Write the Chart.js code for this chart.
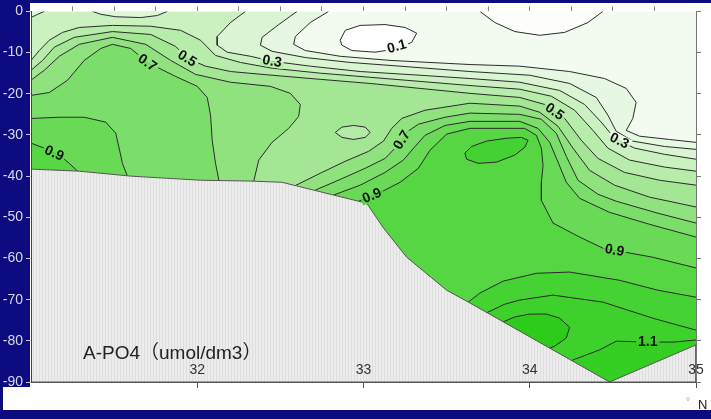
<!DOCTYPE html>
<html><head><meta charset="utf-8">
<script src="https://cdn.jsdelivr.net/npm/chart.js@4/dist/chart.umd.min.js"></script>
<style>html,body{margin:0;padding:0;background:#0c0c80;}canvas{display:block;}</style>
</head><body>
<canvas id="c" width="711" height="419"></canvas>
<script>
// ---------------- data (latitude °N, depth m, PO4 umol/dm3) ----------------
const latTicks = [32, 33, 34, 35];
const latMinorTicks = [31.25,31.5,31.75,32,32.25,32.5,32.75,33,33.25,33.5,33.75,34,34.25,34.5,34.75];
const depthTicks = [0,-10,-20,-30,-40,-50,-60,-70,-80,-90];

const iso010Top  = [[33.70,0],[33.79,-2.7],[33.91,-4.9],[34.06,-5.8],[34.21,-5.1],[34.35,-2.7],[34.44,0]];
const iso010Blob = [[32.86,-7.0],[32.89,-4.6],[32.98,-3.4],[33.13,-3.2],[33.25,-3.9],[33.32,-5.3],[33.29,-7.5],[33.21,-9.0],[33.07,-9.9],[32.93,-9.5],[32.87,-8.2]];
const iso020 = [[32.79,0],[32.68,-2.7],[32.59,-6.1],[32.58,-8.0],[32.65,-9.5],[32.86,-10.9],[33.16,-11.9],[33.40,-12.4],[33.64,-12.9],[33.94,-13.3],[34.24,-14.6],[34.45,-16.3],[34.58,-18.7],[34.64,-22.1],[34.62,-26.0],[34.58,-28.9],[34.66,-30.3],[34.84,-31.1],[35,-31.8]];
const iso025 = [[32.60,0],[32.49,-3.2],[32.39,-6.3],[32.38,-8.2],[32.45,-9.7],[32.65,-11.2],[32.92,-12.4],[33.22,-13.3],[33.64,-14.6],[34.00,-15.5],[34.24,-17.5],[34.40,-20.9],[34.47,-25.2],[34.52,-29.1],[34.62,-31.5],[34.81,-32.8],[35,-33.5]];
const iso030 = [[32.29,0],[32.20,-2.7],[32.12,-6.1],[32.12,-8.2],[32.18,-9.9],[32.32,-10.9],[32.45,-12.1],[32.68,-13.3],[32.98,-14.6],[33.34,-15.5],[33.64,-16.3],[33.94,-17.2],[34.18,-19.2],[34.33,-22.6],[34.43,-26.9],[34.51,-30.8],[34.63,-33.2],[34.81,-34.7],[35,-35.9]];
const iso030Corner = [[31,-1.5],[31.04,-0.7],[31.08,0]];
const iso030Arc = [[31.37,0],[31.42,-0.7],[31.51,-1.3],[31.66,-1.5],[31.76,-1.0],[31.82,0]];
const iso040 = [[31,-11.9],[31.05,-9.5],[31.11,-7.0],[31.19,-5.1],[31.29,-3.9],[31.49,-3.4],[31.72,-3.6],[31.90,-4.6],[32.02,-7.0],[32.11,-10.7],[32.26,-12.4],[32.45,-13.8],[32.74,-15.0],[33.04,-16.0],[33.34,-17.0],[33.64,-18.0],[33.94,-18.9],[34.13,-20.6],[34.27,-24.0],[34.38,-28.9],[34.47,-33.2],[34.60,-36.1],[34.81,-37.8],[35,-38.8]];
const iso050 = [[31,-14.3],[31.07,-11.9],[31.14,-8.7],[31.26,-6.3],[31.49,-4.9],[31.72,-5.6],[31.87,-8.5],[31.94,-11.4],[32.05,-13.3],[32.20,-14.6],[32.45,-15.5],[32.74,-16.5],[33.04,-17.5],[33.34,-18.7],[33.64,-19.9],[33.94,-20.9],[34.09,-22.6],[34.21,-26.0],[34.31,-31.3],[34.41,-35.7],[34.57,-39.1],[34.78,-41.0],[35,-42.2]];
const iso050Oval = [[32.83,-29.4],[32.87,-28.1],[32.94,-27.7],[33.01,-28.1],[33.04,-29.4],[33.01,-30.6],[32.94,-31.1],[32.87,-30.6]];
const iso060W = [[31,-16.7],[31.08,-14.3],[31.17,-10.9],[31.29,-8.0],[31.49,-6.3],[31.69,-8.0],[31.84,-11.9],[31.99,-15.3],[32.20,-17.2],[32.44,-18.2],[32.56,-19.9],[32.62,-22.6],[32.61,-25.5],[32.55,-28.4],[32.45,-31.8],[32.37,-36.1],[32.34,-41.2]];
const iso060E = [[32.59,-42.3],[32.74,-39.3],[32.89,-36.4],[33.03,-34.0],[33.12,-31.5],[33.17,-28.4],[33.23,-26.0],[33.37,-24.0],[33.64,-22.3],[33.94,-23.0],[34.06,-24.5],[34.17,-27.9],[34.26,-33.2],[34.36,-38.6],[34.51,-42.2],[34.72,-45.1],[35,-47.5]];
const iso070W = [[31,-20.4],[31.11,-19.7],[31.22,-16.7],[31.32,-11.9],[31.42,-9.0],[31.49,-8.0],[31.60,-9.0],[31.70,-12.4],[31.87,-15.8],[32.00,-18.2],[32.06,-20.9],[32.08,-25.2],[32.09,-31.3],[32.11,-36.9],[32.13,-41.0]];
const iso070E = [[32.71,-43.4],[32.86,-40.8],[33.01,-38.1],[33.13,-35.7],[33.20,-32.8],[33.25,-29.6],[33.33,-27.4],[33.49,-25.7],[33.64,-24.7],[33.94,-25.0],[34.07,-26.2],[34.16,-29.6],[34.22,-35.2],[34.29,-41.0],[34.41,-44.4],[34.52,-46.1],[34.77,-49.0],[35,-51.4]];
const iso080W = [[31,-26.0],[31.17,-25.7],[31.32,-25.7],[31.45,-26.9],[31.51,-29.6],[31.53,-33.2],[31.55,-36.9],[31.58,-40.0]];
const iso080E = [[32.82,-44.6],[32.98,-42.2],[33.13,-39.1],[33.24,-36.1],[33.31,-32.8],[33.37,-30.1],[33.49,-27.7],[33.64,-26.7],[33.94,-26.7],[34.05,-28.4],[34.12,-31.8],[34.17,-36.6],[34.22,-41.5],[34.30,-45.4],[34.48,-48.8],[34.72,-51.7],[35,-54.8]];
const iso090W = [[31,-32.0],[31.08,-33.2],[31.17,-34.9],[31.23,-36.9],[31.28,-38.8]];
const iso090E = [[32.97,-46.1],[33.09,-44.2],[33.22,-41.5],[33.33,-38.1],[33.40,-33.7],[33.50,-29.8],[33.64,-28.4],[33.97,-28.4],[34.04,-30.1],[34.07,-33.2],[34.08,-37.4],[34.07,-41.5],[34.07,-45.9],[34.14,-51.4],[34.30,-54.8],[34.44,-57.5],[34.74,-59.7],[35,-62.3]];
const iso100Blob = [[33.61,-34.4],[33.65,-32.8],[33.74,-31.5],[33.86,-30.8],[33.95,-30.6],[33.99,-31.3],[33.97,-33.0],[33.91,-34.9],[33.80,-36.6],[33.69,-36.9],[33.62,-35.9]];
const iso100 = [[33.63,-70.6],[33.70,-68.4],[33.84,-65.5],[34.04,-63.6],[34.24,-63.3],[34.54,-65.3],[34.77,-67.7],[35,-69.4]];
const iso105 = [[33.74,-73.2],[33.85,-71.1],[33.94,-70.1],[34.14,-68.9],[34.44,-70.6],[34.74,-74.5],[35,-77.4]];
const iso110 = [[34.25,-84.8],[34.42,-82.2],[34.52,-80.1],[34.71,-80.3],[34.87,-80.3],[35,-79.8]];
const iso115Blob = [[33.84,-75.4],[33.91,-74.2],[34.00,-73.5],[34.10,-73.5],[34.18,-74.5],[34.24,-76.7],[34.22,-79.3],[34.15,-81.3],[34.12,-81.8]];
const seafloor = [[31,-38.3],[31.29,-38.8],[31.60,-40.0],[32.02,-41.0],[32.32,-41.2],[32.51,-41.5],[33.02,-46.6],[33.12,-52.6],[33.26,-59.7],[33.50,-67.7],[33.64,-70.8],[34.48,-90],[35,-81.0],[35,-90],[31,-90]];

const contourLabels = [
  {text:'0.1', lat:33.20, depth:-8.5,  angle:-15},
  {text:'0.3', lat:32.45, depth:-12.1, angle:10},
  {text:'0.5', lat:31.94, depth:-11.4, angle:32},
  {text:'0.7', lat:31.70, depth:-12.4, angle:35},
  {text:'0.9', lat:31.14, depth:-34.4, angle:25},
  {text:'0.5', lat:34.15, depth:-24.3, angle:35},
  {text:'0.3', lat:34.54, depth:-31.4, angle:26},
  {text:'0.7', lat:33.23, depth:-31.2, angle:-58},
  {text:'0.9', lat:33.05, depth:-44.7, angle:-22},
  {text:'0.9', lat:34.51, depth:-58.0, angle:10},
  {text:'1.1', lat:34.71, depth:-80.3, angle:0}
];

// ---------------- styling helpers ----------------
const palette = [[0,'#ffffff'],[0.1,'#f3fbf1'],[0.2,'#e6f8e1'],[0.3,'#d4f3cc'],[0.4,'#c1eeb6'],[0.5,'#ade99f'],[0.6,'#99e489'],[0.7,'#86e074'],[0.8,'#72dc60'],[0.9,'#5fd84c'],[1.0,'#4cd43a'],[1.1,'#3bd029'],[1.2,'#2dcc1b']];
function hex(c){return [1,3,5].map(i=>parseInt(c.substr(i,2),16));}
function colorAt(v){
  for(let i=0;i<palette.length-1;i++){
    const [a,ca]=palette[i],[b,cb]=palette[i+1];
    if(v<=b){const t=(v-a)/(b-a);const A=hex(ca),B=hex(cb);
      return 'rgb('+A.map((x,k)=>Math.round(x+(B[k]-x)*t)).join(',')+')';}
  }
  return palette[palette.length-1][1];
}
const xy = pts => pts.map(([x,y])=>({x,y}));
const below = pts => {const f=pts[0],l=pts[pts.length-1];return [...pts,[l[0],-90],[f[0],-90]];};
const fromTop = pts => below([[31,0],...pts]);
const closed = pts => [...pts, pts[0]];

const fills = [
  {pts:[[31,0],[35,0],[35,-90],[31,-90]], v:0.1},
  {pts:fromTop(iso020), v:0.2},
  {pts:fromTop(iso025), v:0.27},
  {pts:fromTop(iso030), v:0.35},
  {pts:below(iso040), v:0.45},
  {pts:below(iso050), v:0.55},
  {pts:below(iso060W), v:0.65},{pts:below(iso060E), v:0.65},
  {pts:below(iso070W), v:0.75},{pts:below(iso070E), v:0.75},
  {pts:below(iso080W), v:0.85},{pts:below(iso080E), v:0.85},
  {pts:below(iso090W), v:0.95},{pts:below(iso090E), v:0.95},
  {pts:iso100Blob, v:1.05},{pts:below(iso100), v:1.04},
  {pts:below(iso105), v:1.08},
  {pts:below(iso110), v:1.14},
  {pts:below(iso115Blob), v:1.2},
  {pts:iso010Top, v:0.02},{pts:iso010Blob, v:0.0},
  {pts:[[31,0],...iso030Corner], v:0.24},{pts:iso030Arc, v:0.24},
  {pts:iso050Oval, v:0.46}
];
const lines = [iso010Top, closed(iso010Blob), iso020, iso025, iso030, iso030Corner, iso030Arc, iso040, iso050, closed(iso050Oval),
  iso060W, iso060E, iso070W, iso070E, iso080W, iso080E, iso090W, iso090E, closed(iso100Blob), iso100, iso105, iso110, iso115Blob];

// hatch pattern for the sea floor
const pc = document.createElement('canvas'); pc.width=3; pc.height=2;
const pctx = pc.getContext('2d'); pctx.fillStyle='#ececec'; pctx.fillRect(0,0,3,2);
pctx.fillStyle='#dedede'; pctx.fillRect(0,0,1,2);
const ctxMain = document.getElementById('c').getContext('2d');
const hatch = ctxMain.createPattern(pc,'repeat');

const datasets = [];
fills.forEach(f=>datasets.push({data:xy(f.pts), showLine:true, fill:'shape', backgroundColor:colorAt(f.v), borderColor:'transparent', borderWidth:0, pointRadius:0, tension:0}));
lines.forEach(l=>datasets.push({data:xy(l), showLine:true, fill:false, borderColor:'#2b2b2b', borderWidth:1, pointRadius:0, tension:0}));
datasets.push({data:xy(seafloor), showLine:true, fill:'shape', backgroundColor:hatch, borderColor:'#555', borderWidth:1, pointRadius:0, tension:0});
datasets.forEach((d,i)=>d.order = datasets.length - i);

const frame = {
  id:'frame',
  beforeDraw(chart){
    const c = chart.ctx; c.save();
    c.fillStyle='#0c0c80'; c.fillRect(0,0,chart.width,chart.height);
    c.fillStyle='#ffffff'; c.beginPath();
    c.moveTo(30,3); c.lineTo(711,3); c.lineTo(711,410); c.lineTo(3,410); c.lineTo(3,387); c.lineTo(30,387); c.closePath(); c.fill();
    c.restore();
  },
  afterDatasetsDraw(chart){
    const c = chart.ctx, xs = chart.scales.x, ys = chart.scales.y;
    c.save();
    c.font = 'bold 14px "Liberation Sans", Arial, sans-serif';
    c.textAlign='center'; c.textBaseline='middle';
    contourLabels.forEach(L=>{
      const px = xs.getPixelForValue(L.lat), py = ys.getPixelForValue(L.depth);
      const a = L.angle*Math.PI/180;
      const w = c.measureText(L.text).width + 4;
      const nx = -Math.sin(a), ny = Math.cos(a);
      const sample = (d)=>{const d2=c.getImageData(Math.round(px+nx*d),Math.round(py+ny*d),1,1).data;return 'rgb('+d2[0]+','+d2[1]+','+d2[2]+')';};
      const up = sample(-8), dn = sample(8);
      c.save(); c.translate(px,py); c.rotate(a);
      c.fillStyle = up; c.fillRect(-w/2,-6,w,6);
      c.fillStyle = dn; c.fillRect(-w/2,0,w,6);
      c.fillStyle='#111'; c.fillText(L.text,0,0.5);
      c.restore();
    });
    c.font = '19px "Liberation Sans", "Noto Sans CJK SC", Arial, sans-serif';
    c.textAlign='left'; c.textBaseline='alphabetic'; c.fillStyle='#222';
    c.fillText('A-PO4（umol/dm3）', 83, 359);
    c.restore();
  },
  afterDraw(chart){
    const c = chart.ctx; c.save();
    c.fillStyle='#aaa'; c.font='10px "Liberation Sans", Arial'; c.fillText('°', 686, 405);
    c.fillStyle='#222'; c.font='13px "Liberation Sans", Arial'; c.fillText('N', 698, 409);
    c.restore();
  }
};

const font = {family:'"Liberation Sans", Arial, sans-serif', size:14};
new Chart(ctxMain, {
  type:'scatter',
  data:{datasets},
  options:{
    responsive:false, animation:false, devicePixelRatio:1,
    layout:{padding:0},
    plugins:{legend:{display:false}, tooltip:{enabled:false}},
    scales:{
      x:{type:'linear', position:'bottom', min:31, max:35,
        afterBuildTicks:s=>{s.ticks = latTicks.map(v=>({value:v}));},
        afterFit:s=>{s.height=37;},
        ticks:{color:'#333', font, mirror:true, padding:3, maxRotation:0, autoSkip:false, z:2},
        grid:{drawOnChartArea:false, tickLength:6, color:'#555', z:2},
        border:{display:true, color:'#555', z:2}},
      xTop:{type:'linear', position:'top', min:31, max:35,
        afterBuildTicks:s=>{s.ticks = latMinorTicks.map(v=>({value:v}));},
        afterFit:s=>{s.height=11;},
        ticks:{callback:()=> '', autoSkip:false},
        grid:{drawOnChartArea:false, tickLength:5, color:'#888'},
        border:{display:false}},
      y:{type:'linear', position:'left', min:-90, max:0,
        afterBuildTicks:s=>{s.ticks = depthTicks.map(v=>({value:v}));},
        afterFit:s=>{s.width=31;},
        ticks:{color:'#d8d8e2', font, padding:3, autoSkip:false, z:2},
        grid:{drawOnChartArea:false, tickLength:5, color:'#c8c8d4', z:2},
        border:{display:true, color:'#444', z:2}},
      yRight:{type:'linear', position:'right', min:-90, max:0,
        afterBuildTicks:s=>{s.ticks = depthTicks.map(v=>({value:v}));},
        afterFit:s=>{s.width=15;},
        ticks:{callback:()=> '', autoSkip:false},
        grid:{drawOnChartArea:false, tickLength:5, color:'#777', z:2},
        border:{display:true, color:'#777', z:2}}
    }
  },
  plugins:[frame]
});
</script>
</body></html>
